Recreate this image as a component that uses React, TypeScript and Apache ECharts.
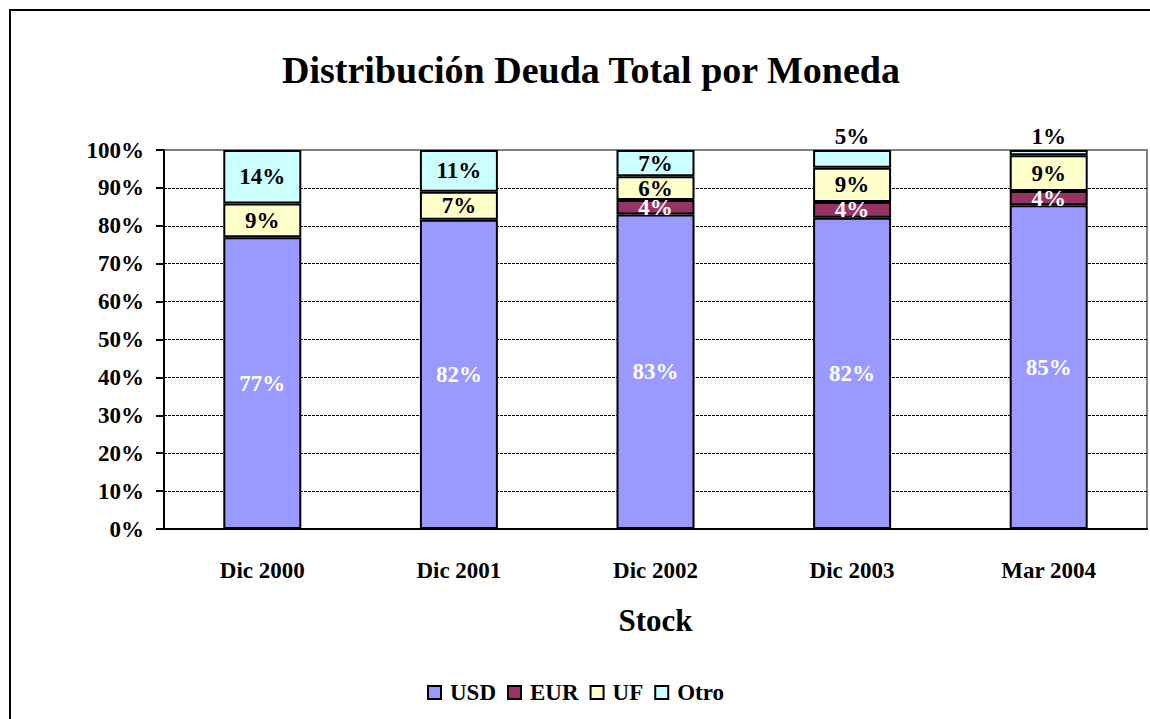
import React, { useEffect, useRef } from "react";
import * as echarts from "echarts";

const categories = ["Dic 2000", "Dic 2001", "Dic 2002", "Dic 2003", "Mar 2004"];
const usd = [77.0, 81.6, 83.0, 82.1, 85.4];
const eur = [0, 0, 3.8, 4.2, 3.8];
const uf = [8.9, 7.4, 6.3, 9.0, 9.4];
const otro = [14.1, 11.0, 6.9, 4.7, 1.4];
const yTicks = [0, 10, 20, 30, 40, 50, 60, 70, 80, 90, 100];

const FONT = "'Liberation Serif', 'Times New Roman', serif";

export default function App() {
  const ref = useRef<HTMLDivElement>(null);
  useEffect(() => {
    if (!ref.current) return;
    const chart = echarts.init(ref.current, undefined, { renderer: "svg" });
    const fmt = (p: any) => {
      const v = typeof p.value === "number" ? p.value : p.value?.value;
      if (v == null || v === 0) return "";
      return Math.round(v) + "%";
    };
    const baseLabel = {
      show: true,
      fontFamily: FONT,
      fontWeight: "bold" as const,
      fontSize: 23,
      formatter: fmt,
    };
    const mk = (name: string, data: any[], color: string, labelColor: string) => ({
      name,
      type: "bar",
      stack: "total",
      barWidth: 78,
      data,
      itemStyle: { color, borderColor: "#000", borderWidth: 2 },
      label: { ...baseLabel, color: labelColor, position: "inside" },
      emphasis: { disabled: true },
    });
    const gridColors = yTicks.map((t, i) => (i === yTicks.length - 1 ? "rgba(0,0,0,0)" : "#000"));
    chart.setOption({
      animation: false,
      title: {
        text: "Distribución Deuda Total por Moneda",
        left: 586,
        top: 46,
        textAlign: "center",
        textStyle: { fontFamily: FONT, fontWeight: "bold", fontSize: 38, color: "#000" },
      },
      graphic: [
        {
          type: "rect",
          shape: { x: 10, y: 10, width: 1200, height: 800 },
          style: { fill: "none", stroke: "#000", lineWidth: 2 },
          silent: true,
          z: -1,
        },
      ],
      legend: {
        data: ["USD", "EUR", "UF", "Otro"],
        left: 422,
        top: 676,
        icon: "rect",
        itemWidth: 13,
        itemHeight: 13,
        itemGap: 11,
        textStyle: { fontFamily: FONT, fontWeight: "bold", fontSize: 23, color: "#000", padding: [0, 0, 0, 4] },
      },
      grid: {
        left: 164,
        right: 3,
        top: 150,
        bottom: 190,
        show: true,
        borderColor: "#808080",
        borderWidth: 2,
        containLabel: false,
      },
      xAxis: {
        type: "category",
        data: categories,
        name: "Stock",
        nameLocation: "middle",
        nameGap: 76,
        nameTextStyle: { fontFamily: FONT, fontWeight: "bold", fontSize: 31, color: "#000" },
        axisLine: { lineStyle: { color: "#000", width: 2 } },
        axisTick: { length: 8, lineStyle: { color: "#000", width: 2 } },
        axisLabel: { fontFamily: FONT, fontWeight: "bold", fontSize: 23, color: "#000", margin: 30 },
      },
      yAxis: {
        type: "value",
        min: 0,
        max: 100,
        interval: 10,
        axisLine: { show: true, lineStyle: { color: "#000", width: 2 } },
        axisTick: { show: true, length: 8, lineStyle: { color: "#000", width: 2 } },
        axisLabel: {
          fontFamily: FONT,
          fontWeight: "bold",
          fontSize: 23,
          color: "#000",
          margin: 20,
          formatter: (v: number) => v + "%",
        },
        splitLine: { show: true, lineStyle: { color: gridColors, width: 1, type: [3, 1] } },
      },
      series: [
        mk("USD", usd, "#9999FF", "#fff"),
        mk("EUR", eur.map((v) => (v === 0 ? "-" : v)), "#993366", "#fff"),
        mk("UF", uf, "#FFFFCC", "#000"),
        mk(
          "Otro",
          otro.map((v) => ({
            value: v,
            label: v < 6 ? { position: "top", distance: 2 } : { position: "inside" },
          })),
          "#CCFFFF",
          "#000"
        ),
      ],
    });
    return () => chart.dispose();
  }, []);
  return (
    <div
      ref={ref}
      style={{ position: "absolute", left: 0, top: 0, width: 1150, height: 719, background: "#fff" }}
    />
  );
}
